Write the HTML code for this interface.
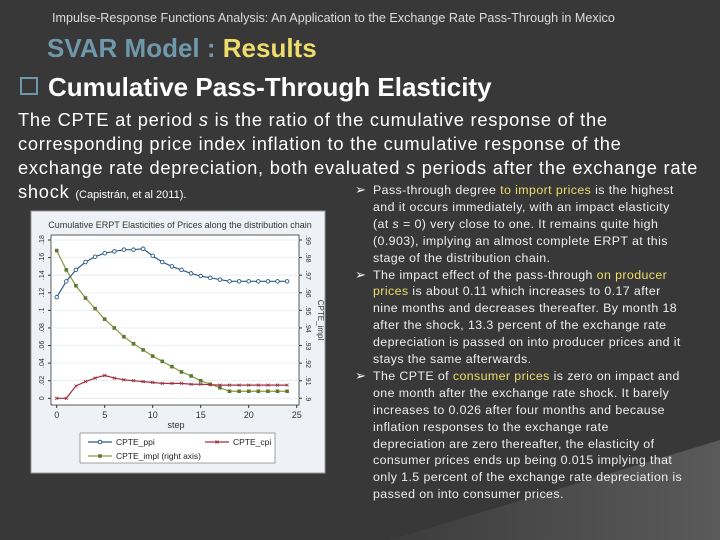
<!DOCTYPE html>
<html><head><meta charset="utf-8"><style>
body{margin:0;width:720px;height:540px;overflow:hidden;background:#383838;font-family:"Liberation Sans",sans-serif;position:relative}
.a{position:absolute;white-space:nowrap}
.y{color:#eedc6c}
.bl{position:absolute;left:373px;color:#eee;font-size:12.4px;line-height:16.9px;white-space:nowrap;letter-spacing:0.4px}
.ar{position:absolute;left:355px;color:#fff;font-size:13px}
</style></head><body>
<svg class="a" style="left:0;top:0" width="720" height="540"><defs><linearGradient id="g" x1="0" y1="0" x2="1" y2="0"><stop offset="0" stop-color="#3c3c3c"/><stop offset="1" stop-color="#5a5a5a"/></linearGradient></defs><polygon points="390,540 720,440 720,540" fill="url(#g)"/></svg>
<div class="a" style="left:52px;top:11px;font-size:12.6px;color:#ddd">Impulse-Response Functions Analysis: An Application to the Exchange Rate Pass-Through in Mexico</div>
<div class="a" style="left:47px;top:33px;font-size:26px;font-weight:bold;color:#6f98aa">SVAR Model : <span class="y">Results</span></div>
<div class="a" style="left:20px;top:72px;font-size:26px;font-weight:bold;color:#fff"><span style="display:inline-block;width:14px;height:14px;border:2px solid #6f98aa;margin-right:10px;vertical-align:1px"></span>Cumulative Pass-Through Elasticity</div>
<div class="a" style="left:18px;top:108px;font-size:18.3px;line-height:24px;color:#fff;letter-spacing:0.75px">The CPTE at period <i>s</i> is the ratio of the cumulative response of the<br>corresponding price index inflation to the cumulative response of the<br>exchange rate depreciation, both evaluated <i>s</i> periods after the exchange rate<br>shock <span style="font-size:11px;letter-spacing:0">(Capistrán, et al 2011).</span></div>

<div class="ar" style="top:182px">➢</div>
<div class="ar" style="top:267px">➢</div>
<div class="ar" style="top:368px">➢</div>
<div class="bl" style="top:182px">Pass-through degree <span class="y">to import prices</span> is the highest<br>and it occurs immediately, with an impact elasticity<br>(at <i>s</i> = 0) very close to one. It remains quite high<br>(0.903), implying an almost complete ERPT at this<br>stage of the distribution chain.</div>
<div class="bl" style="top:266.5px">The impact effect of the pass-through <span class="y">on producer</span><br><span class="y">prices</span> is about 0.11 which increases to 0.17 after<br>nine months and decreases thereafter. By month 18<br>after the shock, 13.3 percent of the exchange rate<br>depreciation is passed on into producer prices and it<br>stays the same afterwards.</div>
<div class="bl" style="top:367.9px">The CPTE of <span class="y">consumer prices</span> is zero on impact and<br>one month after the exchange rate shock. It barely<br>increases to 0.026 after four months and because<br>inflation responses to the exchange rate<br>depreciation are zero thereafter, the elasticity of<br>consumer prices ends up being 0.015 implying that<br>only 1.5 percent of the exchange rate depreciation is<br>passed on into consumer prices.</div>

<svg class="a" id="chart" style="left:0;top:0" width="720" height="540" font-family="Liberation Sans, sans-serif"></svg>
<script>
const steps=[0,1,2,3,4,5,6,7,8,9,10,11,12,13,14,15,16,17,18,19,20,21,22,23,24];
const ppi=[.115,.133,.146,.155,.161,.165,.167,.169,.169,.170,.162,.155,.150,.146,.142,.139,.137,.135,.133,.133,.133,.133,.133,.133,.133];
const cpi=[0,0,.014,.019,.023,.026,.023,.021,.020,.019,.018,.017,.017,.017,.016,.016,.0155,.015,.015,.015,.015,.015,.015,.015,.015];
const impl=[.984,.973,.964,.957,.951,.945,.940,.935,.931,.9275,.924,.921,.918,.915,.9127,.910,.908,.906,.904,.904,.904,.904,.904,.904,.904];
const leftTicks=[0,.02,.04,.06,.08,.1,.12,.14,.16,.18];
const leftLabels=["0",".02",".04",".06",".08",".1",".12",".14",".16",".18"];
const rightTicks=[.9,.91,.92,.93,.94,.95,.96,.97,.98,.99];
const rightLabels=[".9",".91",".92",".93",".94",".95",".96",".97",".98",".99"];
const xTicks=[0,5,10,15,20,25];
const svg=document.getElementById('chart');const NS='http://www.w3.org/2000/svg';
function mk(t,a,p){const e=document.createElementNS(NS,t);for(const k in a)e.setAttribute(k,a[k]);(p||svg).appendChild(e);return e;}
const X=v=>56.7+v*9.6, YL=v=>398.3-v/0.18*158.3, YR=v=>398.3-(v-0.9)/0.09*158.3;
let e;
e=mk('rect',{x:31,y:211,width:294,height:262,fill:'#eef2f6',stroke:'#999'});

e=mk('rect',{x:51,y:235,width:248,height:170,fill:'#fff',stroke:'#333','stroke-width':0.8});

e=mk('text',{x:180,y:228,'font-size':9,'text-anchor':'middle',fill:'#333'});e.textContent='Cumulative ERPT Elasticities of Prices along the distribution chain';

leftTicks.forEach((t,i)=>{const y=YL(t);
 e=mk('line',{x1:51,x2:299,y1:y,y2:y,stroke:'#e4eaf0','stroke-width':0.8});
 
 mk('line',{x1:48,x2:51,y1:y,y2:y,stroke:'#333'});
 e=mk('text',{x:0,y:0,'font-size':7,'text-anchor':'middle',fill:'#333',transform:`translate(44,${y}) rotate(-90)`});e.textContent=leftLabels[i];
 });
rightTicks.forEach((t,i)=>{const y=YR(t);
 mk('line',{x1:299,x2:302,y1:y,y2:y,stroke:'#333'});
 e=mk('text',{x:0,y:0,'font-size':7,'text-anchor':'middle',fill:'#333',transform:`translate(306,${y}) rotate(90)`});e.textContent=rightLabels[i];
 });
e=mk('text',{x:0,y:0,'font-size':8,'text-anchor':'middle',fill:'#333',transform:`translate(318,320) rotate(90)`});e.textContent='CPTE_impl';

xTicks.forEach(t=>{mk('line',{x1:X(t),x2:X(t),y1:405,y2:408,stroke:'#333'});
 e=mk('text',{x:X(t),y:418,'font-size':9,'text-anchor':'middle',fill:'#333'});e.textContent=t;
 });
e=mk('text',{x:176,y:428,'font-size':9,'text-anchor':'middle',fill:'#333'});e.textContent='step';

function series(vals,ys,col,mark,name){
 const pts=vals.map((v,i)=>X(steps[i])+','+ys(v)).join(' ');
 e=mk('polyline',{points:pts,fill:'none',stroke:col,'stroke-width':1.2});
 
 vals.forEach((v,i)=>{const x=X(steps[i]),y=ys(v);
  if(mark==='o')e=mk('circle',{cx:x,cy:y,r:1.8,fill:'#fff',stroke:col,'stroke-width':0.9});
  else if(mark==='s')e=mk('rect',{x:x-1.8,y:y-1.8,width:3.6,height:3.6,fill:'#5a7a30'});
  else e=mk('path',{d:`M${x-1.5},${y-1.5}L${x+1.5},${y+1.5}M${x-1.5},${y+1.5}L${x+1.5},${y-1.5}`,stroke:col,'stroke-width':0.8});
  });}
series(impl,YR,'#8a9a40','s','cpte-impl');
series(cpi,YL,'#a03040','x','cpte-cpi');
series(ppi,YL,'#2e5a82','o','cpte-ppi');
e=mk('rect',{x:80,y:433,width:195,height:30,fill:'#fff',stroke:'#666','stroke-width':0.6});

[[88,442,'#2e5a82','CPTE_ppi','o'],[205,442,'#a03040','CPTE_cpi','x'],[88,456,'#8a9a40','CPTE_impl (right axis)','s']].forEach(l=>{
 mk('line',{x1:l[0],x2:l[0]+24,y1:l[1],y2:l[1],stroke:l[2],'stroke-width':1.2});
 const cx=l[0]+12;
 if(l[4]==='o')mk('circle',{cx:cx,cy:l[1],r:1.8,fill:'#fff',stroke:l[2]});
 else if(l[4]==='s')mk('rect',{x:cx-1.8,y:l[1]-1.8,width:3.6,height:3.6,fill:'#5a7a30'});
 else mk('path',{d:`M${cx-1.5},${l[1]-1.5}L${cx+1.5},${l[1]+1.5}M${cx-1.5},${l[1]+1.5}L${cx+1.5},${l[1]-1.5}`,stroke:l[2]});
 e=mk('text',{x:l[0]+28,y:l[1]+3,'font-size':8.5,fill:'#222'});e.textContent=l[3];
 });
</script>
</body></html>
